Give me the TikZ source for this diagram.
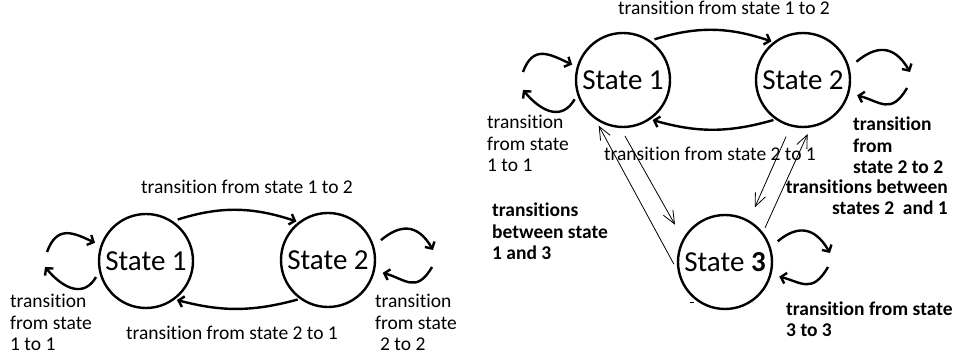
\documentclass[tikz,border=0pt]{standalone}
\usepackage{fontspec}
\setmainfont{Carlito}[Ligatures=NoCommon]
\usetikzlibrary{arrows.meta}
\begin{document}
\begin{tikzpicture}[x=1pt,y=1pt,
  state/.style={circle, draw, line width=2.4pt, minimum size=94pt, inner sep=0pt, font=\fontsize{29}{32}\selectfont},
  lbl/.style={inner sep=0pt, font=\fontsize{19.5}{21.5}\selectfont, align=left},
  blbl/.style={inner sep=0pt, font=\fontsize{19.5}{21.5}\selectfont\bfseries, align=left},
  thickarrow/.style={line width=2.4pt, -{Straight Barb[length=5pt,width=11pt]}},
  thinarrow/.style={line width=0.8pt, -{Straight Barb[length=13pt,width=11pt]}},
]
\useasboundingbox (0,0) rectangle (953,358);
% ---------- left diagram ----------
\node[state] (s1L) at (146,97) {State 1};
\node[state] (s2L) at (328,98) {State 2};
\draw[thickarrow, shorten <=5pt, shorten >=2pt] (s1L.56) to[bend left=18] (s2L.128);
\draw[thickarrow, shorten <=2pt, shorten >=2pt] (s2L.234) to[bend left=15] (s1L.307);
\coordinate (l1a) at (47,106);
\coordinate (l1b) at (45,91);
\draw[thickarrow, shorten >=6pt] (l1a) to[out=70,in=155,looseness=1.4] (s1L.161);
\draw[thickarrow, shorten <=6pt] (s1L.193) to[out=240,in=-50,looseness=1.4] (l1b);
\coordinate (l2a) at (433,108);
\coordinate (l2b) at (432,91);
\draw[thickarrow, shorten <=9pt] (s2L.17) to[out=40,in=120,looseness=1.4] (l2a);
\draw[thickarrow, shorten >=8pt] (l2b) to[out=240,in=-15,looseness=1.4] (s2L.-13);
\node[lbl, anchor=base] (t12L) at (247,164) {transition from state 1 to 2};
\node[lbl, anchor=base] (t21L) at (232,18) {transition from state 2 to 1};
\node[lbl, anchor=base west] (t11L) at (10,7) {transition\\from state\\1 to 1};
\node[lbl, anchor=base west] (t22L) at (375,7) {transition\\from state\\\hspace*{5pt}2 to 2};
% ---------- right diagram ----------
\node[state] (s1R) at (623,278) {State 1};
\node[state] (s2R) at (803,278) {State 2};
\node[state] (s3R) at (725,96) {State \textbf{3}};
\draw[thickarrow, shorten <=4pt, shorten >=2pt] (s1R.55) to[bend left=18] (s2R.128);
\draw[thickarrow, shorten <=2pt, shorten >=2pt] (s2R.235) to[bend left=16] (s1R.305);
\coordinate (r1a) at (523,286);
\coordinate (r1b) at (523,268);
\draw[thickarrow, shorten >=5pt] (r1a) to[out=70,in=155,looseness=1.4] (s1R.164);
\draw[thickarrow, shorten <=5pt] (s1R.198) to[out=240,in=-50,looseness=1.4] (r1b);
\coordinate (r2a) at (910,286);
\coordinate (r2b) at (907,270);
\draw[thickarrow, shorten <=9pt] (s2R.15) to[out=40,in=120,looseness=1.4] (r2a);
\draw[thickarrow, shorten >=8pt] (r2b) to[out=240,in=-15,looseness=1.4] (s2R.-16);
\coordinate (r3a) at (830,105);
\coordinate (r3b) at (828,91);
\draw[thickarrow, shorten <=9pt] (s3R.18) to[out=40,in=120,looseness=1.4] (r3a);
\draw[thickarrow, shorten >=8pt] (r3b) to[out=240,in=-15,looseness=1.4] (s3R.-15);
\draw[thinarrow, shorten <=8pt, shorten >=7pt] (s3R.191) -- (s1R.235);
\draw[thinarrow, shorten <=9pt, shorten >=16pt] (s1R.267) -- (s3R.151);
\draw[thinarrow, shorten <=11pt, shorten >=14pt] (s2R.255) -- (s3R.60);
\draw[thinarrow, shorten <=5pt, shorten >=7pt] (s3R.38) -- (s2R.279);
\draw[line width=1pt] (690,55) -- (694,55);
\node[lbl, anchor=base] (t12R) at (724,343) {transition from state 1 to 2};
\node[lbl, anchor=base] (t21R) at (710,197) {transition from state 2 to 1};
\node[lbl, anchor=base west] (t11R) at (487,186) {transition\\from state\\1 to 1};
\node[blbl, anchor=base west] (t22R) at (853,184) {transition\\from\\state 2 to 2};
\node[blbl, anchor=base west] (t13R) at (492,98) {transitions\\between state\\1 and 3};
\node[blbl, anchor=base east, align=right] (t21bR) at (948,143) {transitions between\\states 2~~and 1};
\node[blbl, anchor=base west] (t33R) at (786,21) {transition from state\\3 to 3};
\end{tikzpicture}
\end{document}
